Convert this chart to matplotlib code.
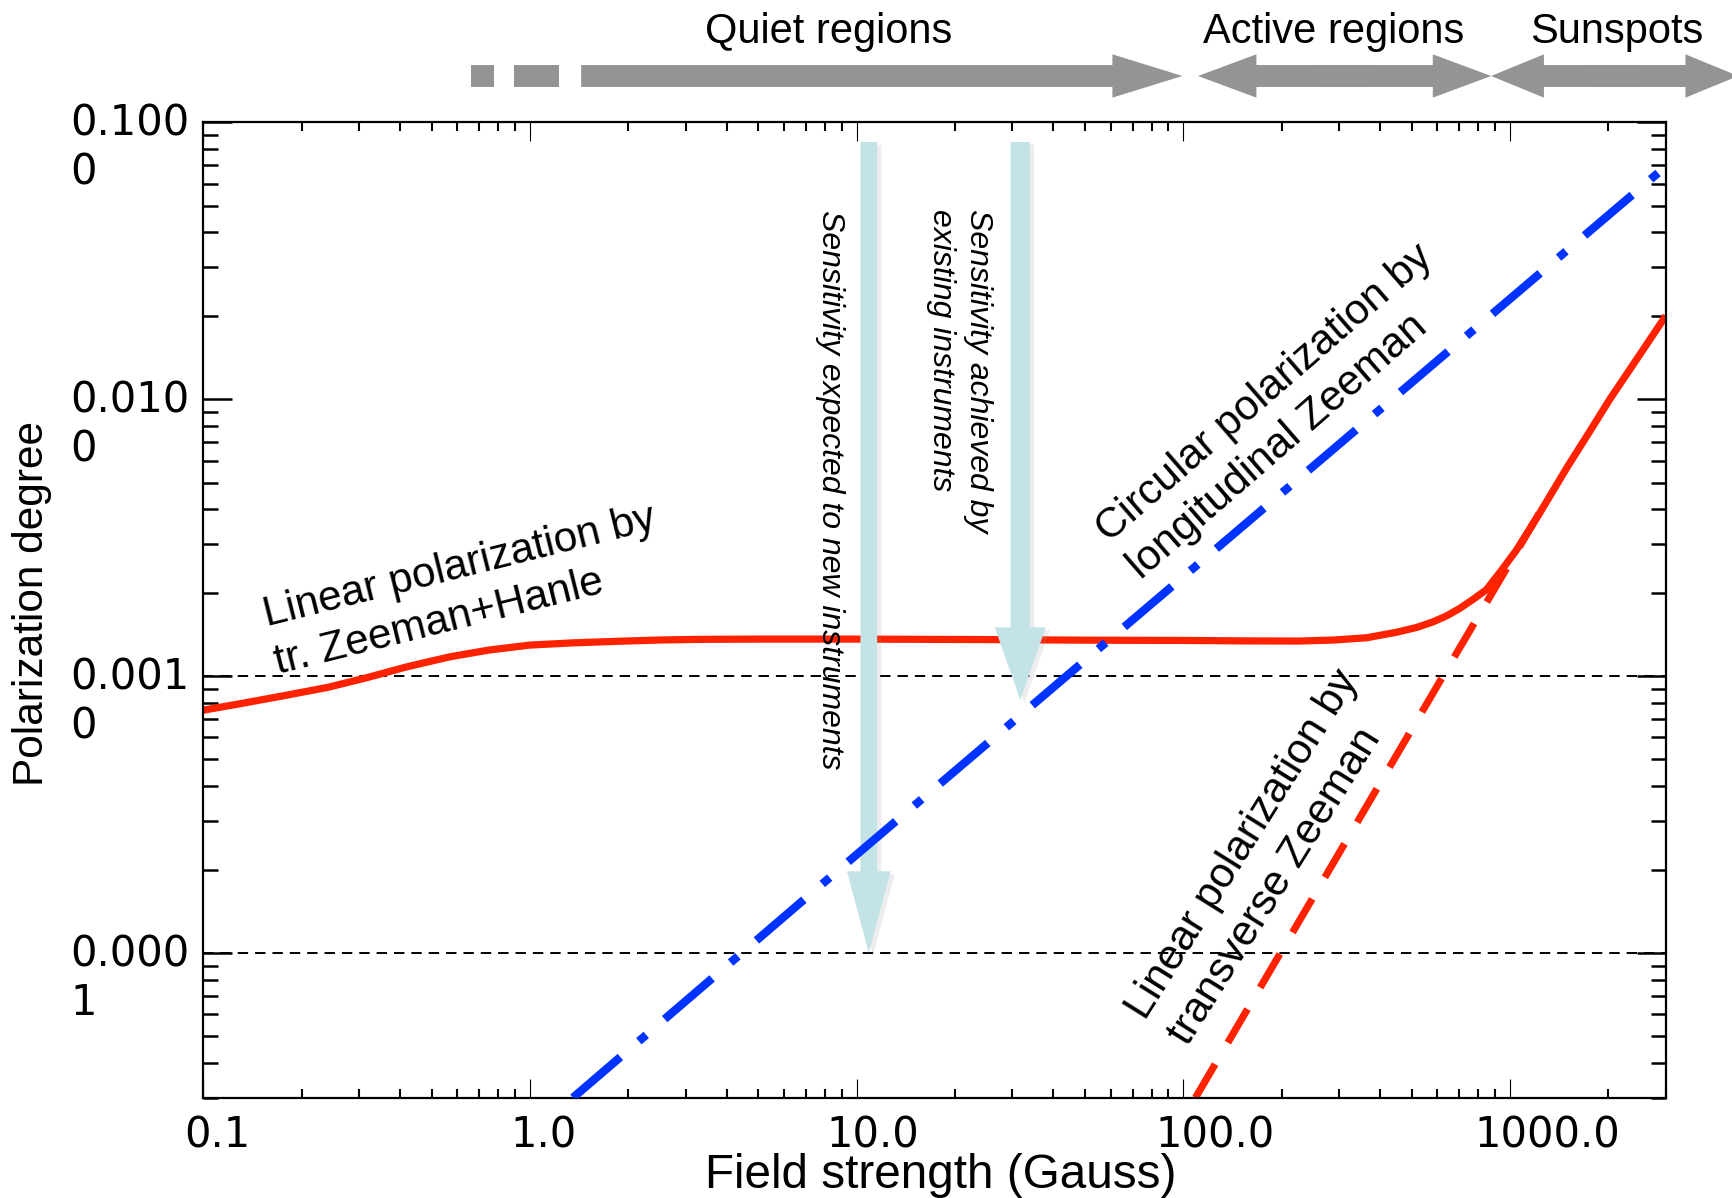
import matplotlib
matplotlib.use("Agg")
import matplotlib.pyplot as plt
import matplotlib.transforms as mtransforms
import matplotlib.patheffects as pe
from matplotlib.patches import FancyArrowPatch
from matplotlib.ticker import FixedLocator, LogLocator, NullFormatter

plt.rcParams['lines.scale_dashes'] = False
plt.rcParams['font.family'] = ['Liberation Sans', 'DejaVu Sans']

# ---------------- data ----------------
hanle_B = [0.1, 0.13, 0.176, 0.24, 0.316, 0.42, 0.569, 0.75, 1.0, 1.35, 1.84, 2.5, 3.3,
           5.0, 10, 23.8, 50, 100, 150, 227, 290, 364, 450, 520, 582, 640, 703, 770,
           847, 940, 1047, 1234, 1500, 1750, 2023, 2500, 3000]
hanle_P = [7.53e-4, 7.95e-4, 8.49e-4, 9.1e-4, 9.86e-4, 1.08e-3, 1.174e-3, 1.242e-3,
           1.294e-3, 1.318e-3, 1.335e-3, 1.35e-3, 1.357e-3, 1.36e-3, 1.36e-3, 1.355e-3,
           1.348e-3, 1.345e-3, 1.34e-3, 1.338e-3, 1.35e-3, 1.375e-3, 1.44e-3, 1.5e-3,
           1.57e-3, 1.65e-3, 1.757e-3, 1.89e-3, 2.05e-3, 2.4e-3, 2.85e-3, 3.88e-3,
           5.7e-3, 7.6e-3, 1.0e-2, 1.45e-2, 2.0e-2]

trans_B = [109, 624, 1234]
trans_P = [3.0e-5, 1.0e-3, 3.9e-3]

long_B = [1.354, 9.14, 3000]
long_P = [3.0e-5, 2.07e-4, 6.93e-2]

ref_levels = [1e-4, 1e-3]

sens_B = [10.9, 31.7]
sens_top = [0.0849, 0.0849]
sens_tip = [1.0e-4, 8.2e-4]

xticks = [0.1, 1, 10, 100, 1000]
xticklabels = ["0.1", "1.0", "10.0", "100.0", "1000.0"]
yticks = [1e-4, 1e-3, 1e-2, 1e-1]
yticklabels = ["0.000\n1", "0.001\n0", "0.010\n0", "0.100\n0"]

region_names = ["Quiet regions", "Active regions", "Sunspots"]
region_text_B = [8.2, 289, 2123]
quiet_dash_B = [(0.658, 0.774), (0.893, 1.227)]
quiet_arrow_B = (1.435, 99.4)
active_B = (111, 876)
sunspot_B = (876, 5000)

# ---------------- style ----------------
RED = '#ff2200'
BLUE = '#0033ff'
LBLUE = '#c3e3e6'
GRAY = '#949494'

fig = plt.figure(figsize=(17.33, 11.98), dpi=100)
ax = fig.add_axes([0.1173, 0.0837, 0.9612 - 0.1173, 0.8979 - 0.0837])
ax.set_xscale('log')
ax.set_yscale('log')
ax.set_xlim(0.1, 3000)
ax.set_ylim(3e-5, 0.1)

for s in ax.spines.values():
    s.set_linewidth(1.6)

# reference dashed levels
for lv in ref_levels:
    ax.axhline(lv, color='black', lw=1.4, linestyle=(0, (7.5, 5)), zorder=1)

# curves
ax.plot(trans_B, trans_P, color=RED, lw=5.2, linestyle=(0, (28, 18)),
        solid_capstyle='butt', dash_capstyle='butt', zorder=2)
ax.plot(hanle_B, hanle_P, color=RED, lw=5.2, solid_capstyle='butt',
        solid_joinstyle='round', zorder=2.2)

# sensitivity arrows
shaft_w = [12.0, 13.9]
head_w = [31.5, 36.7]
head_l = [58.8, 52.3]
for b, top, tip, tw, hw, hl in zip(sens_B, sens_top, sens_tip, shaft_w, head_w, head_l):
    arr = FancyArrowPatch((b, top), (b, tip), transform=ax.transData,
                          arrowstyle=f"simple,head_length={hl},head_width={hw},tail_width={tw}",
                          mutation_scale=1, shrinkA=0, shrinkB=0, color=LBLUE, lw=0, zorder=3)
    arr.set_path_effects([pe.SimplePatchShadow(offset=(3, -2), shadow_rgbFace='#888888',
                                               alpha=0.15),
                          pe.Normal()])
    ax.add_patch(arr)

ax.plot(long_B, long_P, color=BLUE, lw=6.0, linestyle=(0, (45, 17.5, 7, 17.5)),
        dash_capstyle='butt', zorder=4)

# ticks
ax.xaxis.set_major_locator(FixedLocator(xticks))
ax.xaxis.set_minor_locator(LogLocator(base=10, subs=range(2, 10), numticks=50))
ax.xaxis.set_minor_formatter(NullFormatter())
ax.yaxis.set_major_locator(FixedLocator(yticks))
ax.yaxis.set_minor_locator(LogLocator(base=10, subs=range(2, 10), numticks=50))
ax.yaxis.set_minor_formatter(NullFormatter())

ax.tick_params(axis='x', which='major', direction='in', length=13.7, width=0.8,
               top=True, pad=12, labelsize=30)
ax.tick_params(axis='x', which='minor', direction='in', length=6.5, width=1.5, top=True)
ax.tick_params(axis='y', which='major', direction='in', length=21, width=1.8,
               right=True, pad=10, labelsize=30)
ax.tick_params(axis='y', which='minor', direction='in', length=10.8, width=1.8, right=True)

ax.set_xticks(xticks)
ax.set_xticklabels(xticklabels, fontfamily='DejaVu Sans')
ax.set_yticks(yticks)
ax.set_yticklabels(yticklabels, fontfamily='DejaVu Sans', va='center_baseline',
                   ha='right', multialignment='left', linespacing=1.2)

xoff_pt = [10, 10, 11.5, 23, 27]
for lab, dx in zip(ax.get_xticklabels(), xoff_pt):
    lab.set_transform(lab.get_transform() +
                      mtransforms.ScaledTranslation(dx / 72, 0, fig.dpi_scale_trans))
for lab in ax.get_yticklabels():
    lab.set_transform(lab.get_transform() +
                      mtransforms.ScaledTranslation(0, -13 / 72, fig.dpi_scale_trans))

# axis labels
fig.text(0.5427, 0.0083, "Field strength (Gauss)", ha='center', va='baseline', fontsize=34.3)
fig.text(0.0182, 0.496, "Polarization degree", rotation=90, ha='center', va='center',
         fontsize=30.5)

# annotations
ax.text(0.148, 1.95e-3, "Linear polarization by\ntr. Zeeman+Hanle", rotation=14,
        rotation_mode='anchor', ha='left', va='top', fontsize=30.5, linespacing=1.3, zorder=5)
ax.text(51.4, 3.66e-3, "Circular polarization by\nlongitudinal Zeeman", rotation=41,
        rotation_mode='anchor', ha='left', va='top', fontsize=30.5, linespacing=1.3, zorder=5)
ax.text(63.8, 6.52e-5, "Linear polarization by\ntransverse Zeeman", rotation=58,
        rotation_mode='anchor', ha='left', va='top', fontsize=30.5, linespacing=1.3, zorder=5)

ax.text(8.28, 0.0483, "Sensitivity expected to new instruments", rotation=-90,
        rotation_mode='anchor', ha='left', va='center', fontsize=23, style='italic', zorder=5)
ax.text(20.6, 0.0487, "Sensitivity achieved by\nexisting instruments", rotation=-90,
        rotation_mode='anchor', ha='left', va='center', fontsize=23, style='italic',
        linespacing=1.3, zorder=5)

# header region arrows (x in data, y in axes fraction)
trans = mtransforms.blended_transform_factory(ax.transData, ax.transAxes)
y_hdr = 1.0475
y_txt = 1.081
for (a, b) in quiet_dash_B:
    ax.plot([a, b], [y_hdr, y_hdr], transform=trans, color=GRAY, lw=15.8,
            solid_capstyle='butt', clip_on=False)


def hdr_arrow(b0, b1, hl, hw=31.2, tw=15.8):
    p = FancyArrowPatch((b0, y_hdr), (b1, y_hdr), transform=trans,
                        arrowstyle=f"simple,head_length={hl},head_width={hw},tail_width={tw}",
                        mutation_scale=1, shrinkA=0, shrinkB=0, color=GRAY, lw=0,
                        clip_on=False)
    ax.add_patch(p)


def hdr_double(b_left, b_right, hl):
    # two single-headed arrows whose shafts overlap in the middle
    lo, hi = b_left, b_right
    span = (hi / lo)
    hdr_arrow(lo * span ** 0.6, lo, hl)
    hdr_arrow(lo * span ** 0.4, hi, hl)


hdr_arrow(quiet_arrow_B[0], quiet_arrow_B[1], 50.4)
hdr_double(active_B[0], active_B[1], 42)
hdr_double(sunspot_B[0], sunspot_B[1], 38)

for name, b in zip(region_names, region_text_B):
    ax.text(b, y_txt, name, transform=trans, ha='center', va='baseline', fontsize=30,
            clip_on=False)

fig.savefig("out.png", dpi=100)
